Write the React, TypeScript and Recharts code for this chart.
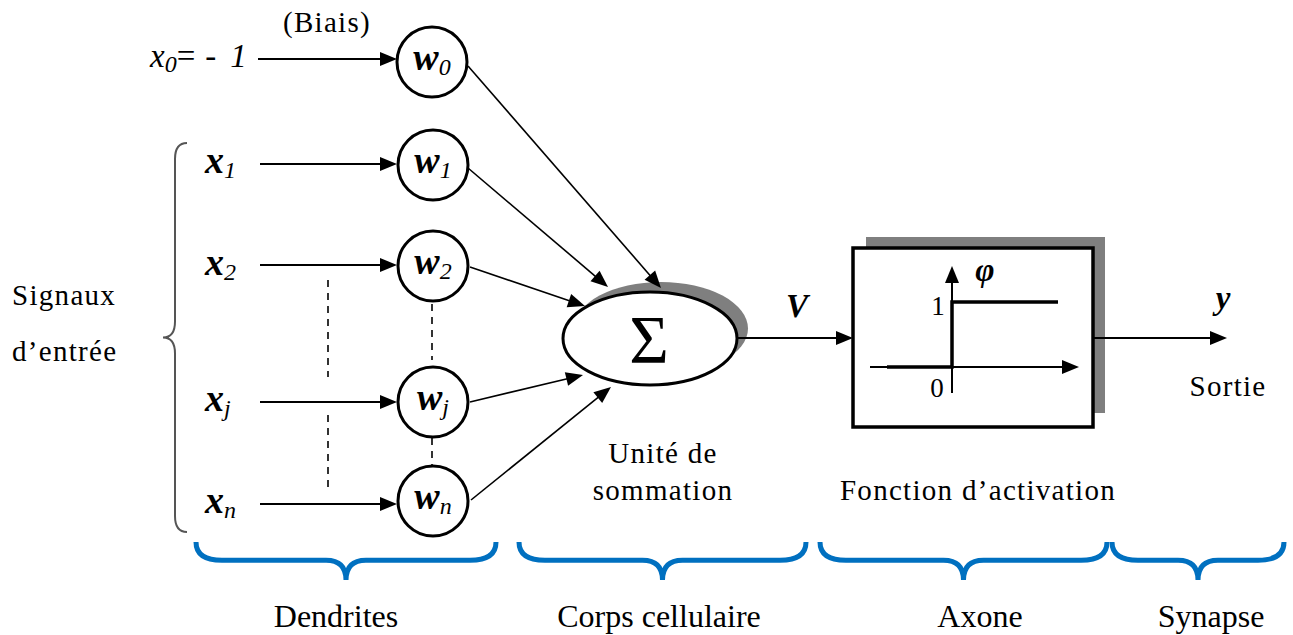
import React from 'react';
import { ComposedChart, XAxis, YAxis, Scatter, Line, ReferenceLine, ReferenceArea } from 'recharts';

const W = 1293;
const H = 635;

// ---- diagram data (positions in the diagram's own coordinate space) ----
const weightNodes = [
  { x: 432, y: 62, sub: '0' },
  { x: 433, y: 165, sub: '1' },
  { x: 433, y: 266, sub: '2' },
  { x: 433, y: 402, sub: 'j' },
  { x: 433, y: 501, sub: 'n' },
];
const inputLabels = [
  { x: 205, y: 173, sub: '1' },
  { x: 205, y: 275, sub: '2' },
  { x: 205, y: 411, sub: 'j' },
  { x: 205, y: 513, sub: 'n' },
];
const biasLabel = [{ x: 150, y: 67 }];
const inputArrows = [
  { x1: 258, y1: 59, x2: 397, y2: 59 },
  { x1: 260, y1: 164, x2: 397, y2: 164 },
  { x1: 260, y1: 265, x2: 397, y2: 265 },
  { x1: 260, y1: 402, x2: 397, y2: 402 },
  { x1: 260, y1: 504, x2: 397, y2: 504 },
];
const weightArrows = [
  { x1: 468, y1: 66, x2: 661, y2: 288 },
  { x1: 468, y1: 168, x2: 608, y2: 287 },
  { x1: 470, y1: 267, x2: 585, y2: 306 },
  { x1: 470, y1: 402, x2: 583, y2: 375 },
  { x1: 471, y1: 500, x2: 611, y2: 387 },
];
const dashedLinks = [
  { x1: 328, y1: 280, x2: 328, y2: 377 },
  { x1: 328, y1: 415, x2: 328, y2: 493 },
  { x1: 432, y1: 304, x2: 432, y2: 360 },
  { x1: 432, y1: 438, x2: 432, y2: 467 },
];
const signalArrows = [
  { x1: 737, y1: 338, x2: 853, y2: 338 },
  { x1: 1093, y1: 338, x2: 1227, y2: 338 },
];
const plotAxes = [
  { x1: 870, y1: 367, x2: 1079, y2: 367 },
  { x1: 952, y1: 393, x2: 952, y2: 266 },
];
const stepData = [
  { x: 887, y: 367 },
  { x: 952, y: 367 },
  { x: 952, y: 302 },
  { x: 1058, y: 302 },
];
const sumShadow = { x1: 574, x2: 748, y1: 282, y2: 375 };
const sumNode = { x1: 563, x2: 737, y1: 292, y2: 385 };
const boxShadow = { x1: 866, x2: 1105, y1: 237, y2: 413 };
const activationBox = { x1: 853, x2: 1093, y1: 248, y2: 427 };
const inputBrace = { x1: 163, x2: 187, y1: 143, y2: 532 };
const sectionBraces = [
  { x1: 196, x2: 496, y1: 542, y2: 580 },
  { x1: 519, x2: 806, y1: 542, y2: 580 },
  { x1: 820, x2: 1107, y1: 542, y2: 580 },
  { x1: 1112, x2: 1284, y1: 542, y2: 580 },
];
const sigmaLabel = [{ x: 649, y: 362, text: 'Σ' }];
const mathLabels = [
  { x: 797, y: 317, text: 'V' },
  { x: 1223, y: 309, text: 'y' },
  { x: 985, y: 281, text: 'φ' },
];
const plotTickLabels = [
  { x: 938, y: 315, text: '1' },
  { x: 937, y: 397, text: '0' },
];
const captionLabels = [
  { x: 327, y: 32, text: '(Biais)', anchor: 'middle' },
  { x: 12, y: 305, text: 'Signaux', anchor: 'start' },
  { x: 12, y: 361, text: 'd’entrée', anchor: 'start' },
  { x: 663, y: 463, text: 'Unité de', anchor: 'middle' },
  { x: 663, y: 500, text: 'sommation', anchor: 'middle' },
  { x: 978, y: 500, text: 'Fonction d’activation', anchor: 'middle' },
  { x: 1228, y: 396, text: 'Sortie', anchor: 'middle' },
];
const sectionLabels = [
  { x: 336, y: 627, text: 'Dendrites' },
  { x: 659, y: 627, text: 'Corps cellulaire' },
  { x: 980, y: 627, text: 'Axone' },
  { x: 1211, y: 627, text: 'Synapse' },
];

// ---- styles ----
const SERIF = '"Liberation Serif", "Times New Roman", serif';
const BLUE = '#0070C0';

// ---- shapes ----
const arrowShape = (p: any) => {
  const { x1, y1, x2, y2 } = p;
  const dx = x2 - x1;
  const dy = y2 - y1;
  const len = Math.hypot(dx, dy) || 1;
  const ux = dx / len;
  const uy = dy / len;
  const L = 17;
  const hw = 7;
  const bx = x2 - ux * L;
  const by = y2 - uy * L;
  return (
    <g>
      <line x1={x1} y1={y1} x2={bx + ux * 2} y2={by + uy * 2} stroke="#000" strokeWidth={p.strokeWidth || 2} />
      <polygon
        points={`${x2},${y2} ${bx - uy * hw},${by + ux * hw} ${bx + uy * hw},${by - ux * hw}`}
        fill="#000"
      />
    </g>
  );
};

const ellipseShape = (fill: string, stroke: string, sw: number) => (p: any) => {
  const { x, y, width, height } = p;
  return (
    <ellipse
      cx={x + width / 2}
      cy={y + height / 2}
      rx={width / 2}
      ry={height / 2}
      fill={fill}
      stroke={stroke}
      strokeWidth={sw}
    />
  );
};

const rectShape = (fill: string, stroke: string, sw: number) => (p: any) => {
  const { x, y, width, height } = p;
  return <rect x={x} y={y} width={width} height={height} fill={fill} stroke={stroke} strokeWidth={sw} />;
};

const hBraceShape = (p: any) => {
  const { x, y, width, height } = p;
  const top = y;
  const bottom = y + height;
  const mid = y + height * 0.48;
  const xm = x + width / 2;
  const r = 26;
  const rt = 20;
  const x2 = x + width;
  const d = `M ${x} ${top} Q ${x} ${mid} ${x + r} ${mid} L ${xm - rt} ${mid} Q ${xm} ${mid} ${xm} ${bottom} Q ${xm} ${mid} ${xm + rt} ${mid} L ${x2 - r} ${mid} Q ${x2} ${mid} ${x2} ${top}`;
  return <path d={d} fill="none" stroke={BLUE} strokeWidth={5} />;
};

const vBraceShape = (p: any) => {
  const { x, y, width, height } = p;
  const left = x;
  const right = x + width;
  const mid = x + width * 0.5;
  const ym = y + height / 2;
  const bottom = y + height;
  const r = 16;
  const d = `M ${right} ${y} Q ${mid} ${y} ${mid} ${y + r} L ${mid} ${ym - r} Q ${mid} ${ym} ${left} ${ym} Q ${mid} ${ym} ${mid} ${ym + r} L ${mid} ${bottom - r} Q ${mid} ${bottom} ${right} ${bottom}`;
  return <path d={d} fill="none" stroke="#555" strokeWidth={2} />;
};

const weightShape = (p: any) => {
  const { cx, cy, payload } = p;
  return (
    <g>
      <circle cx={cx} cy={cy} r={35} fill="#fff" stroke="#000" strokeWidth={3} />
      <text x={cx} y={cy + 8} textAnchor="middle" fontFamily={SERIF} fill="#000">
        <tspan fontSize={38} fontWeight="bold" fontStyle="italic">w</tspan>
        <tspan fontSize={24} fontStyle="italic" dy={5}>{payload.sub}</tspan>
      </text>
    </g>
  );
};

const inputShape = (p: any) => {
  const { cx, cy, payload } = p;
  return (
    <text x={cx} y={cy} textAnchor="start" fontFamily={SERIF} fill="#000">
      <tspan fontSize={38} fontWeight="bold" fontStyle="italic">x</tspan>
      <tspan fontSize={24} fontStyle="italic" dy={5}>{payload.sub}</tspan>
    </text>
  );
};

const biasShape = (p: any) => {
  const { cx, cy } = p;
  return (
    <text x={cx} y={cy} textAnchor="start" fontFamily={SERIF} fill="#000" fontSize={33}>
      <tspan fontStyle="italic">x</tspan>
      <tspan fontStyle="italic" fontSize={24} dy={5}>0</tspan>
      <tspan dy={-5}>=</tspan>
      <tspan dx={10}>-</tspan>
      <tspan fontStyle="italic" dx={14}>1</tspan>
    </text>
  );
};

const textShape = (family: string, size: number, weight: string, style: string, spacing = 0) => (p: any) => {
  const { cx, cy, payload } = p;
  return (
    <text
      x={cx}
      y={cy}
      textAnchor={payload.anchor || 'middle'}
      fontFamily={family}
      fontSize={size}
      fontWeight={weight}
      fontStyle={style}
      letterSpacing={spacing}
      fill="#000"
    >
      {payload.text}
    </text>
  );
};

export default function App() {
  return (
    <div style={{ position: 'absolute', left: 0, top: 0, width: W, height: H, background: '#fff' }}>
      <ComposedChart width={W} height={H} margin={{ top: 0, right: 0, bottom: 0, left: 0 }}>
        <XAxis type="number" dataKey="x" domain={[0, W]} allowDataOverflow hide />
        <YAxis type="number" dataKey="y" domain={[0, H]} allowDataOverflow reversed hide />

        <ReferenceArea {...sumShadow} shape={ellipseShape('#7f7f7f', 'none', 0)} />
        <ReferenceArea {...sumNode} shape={ellipseShape('#fff', '#000', 3)} />
        <ReferenceArea {...boxShadow} shape={rectShape('#7f7f7f', 'none', 0)} />
        <ReferenceArea {...activationBox} shape={rectShape('#fff', '#000', 3.5)} />
        <ReferenceArea {...inputBrace} shape={vBraceShape} />
        {sectionBraces.map((b, i) => (
          <ReferenceArea key={`brace-${i}`} {...b} shape={hBraceShape} />
        ))}

        {inputArrows.map((a, i) => (
          <ReferenceLine
            key={`in-${i}`}
            segment={[{ x: a.x1, y: a.y1 }, { x: a.x2, y: a.y2 }]}
            stroke="#000"
            strokeWidth={2}
            shape={arrowShape}
          />
        ))}
        {weightArrows.map((a, i) => (
          <ReferenceLine
            key={`wa-${i}`}
            segment={[{ x: a.x1, y: a.y1 }, { x: a.x2, y: a.y2 }]}
            stroke="#000"
            strokeWidth={1.6}
            shape={arrowShape}
          />
        ))}
        {signalArrows.map((a, i) => (
          <ReferenceLine
            key={`sig-${i}`}
            segment={[{ x: a.x1, y: a.y1 }, { x: a.x2, y: a.y2 }]}
            stroke="#000"
            strokeWidth={2}
            shape={arrowShape}
          />
        ))}
        {plotAxes.map((a, i) => (
          <ReferenceLine
            key={`ax-${i}`}
            segment={[{ x: a.x1, y: a.y1 }, { x: a.x2, y: a.y2 }]}
            stroke="#000"
            strokeWidth={2}
            shape={arrowShape}
          />
        ))}
        {dashedLinks.map((a, i) => (
          <ReferenceLine
            key={`d-${i}`}
            segment={[{ x: a.x1, y: a.y1 }, { x: a.x2, y: a.y2 }]}
            stroke="#000"
            strokeWidth={1.6}
            strokeDasharray="7 6"
          />
        ))}

        <Line
          data={stepData}
          dataKey="y"
          type="linear"
          stroke="#000"
          strokeWidth={3.5}
          dot={false}
          activeDot={false}
          isAnimationActive={false}
        />

        <Scatter data={weightNodes} dataKey="y" shape={weightShape} isAnimationActive={false} />
        <Scatter data={inputLabels} dataKey="y" shape={inputShape} isAnimationActive={false} />
        <Scatter data={biasLabel} dataKey="y" shape={biasShape} isAnimationActive={false} />
        <Scatter data={sigmaLabel} dataKey="y" shape={textShape(SERIF, 68, 'normal', 'normal')} isAnimationActive={false} />
        <Scatter data={mathLabels} dataKey="y" shape={textShape(SERIF, 33, 'bold', 'italic')} isAnimationActive={false} />
        <Scatter data={plotTickLabels} dataKey="y" shape={textShape(SERIF, 27, 'normal', 'normal')} isAnimationActive={false} />
        <Scatter data={captionLabels} dataKey="y" shape={textShape(SERIF, 29, 'normal', 'normal', 1.3)} isAnimationActive={false} />
        <Scatter data={sectionLabels} dataKey="y" shape={textShape(SERIF, 32, 'normal', 'normal')} isAnimationActive={false} />
      </ComposedChart>
    </div>
  );
}
